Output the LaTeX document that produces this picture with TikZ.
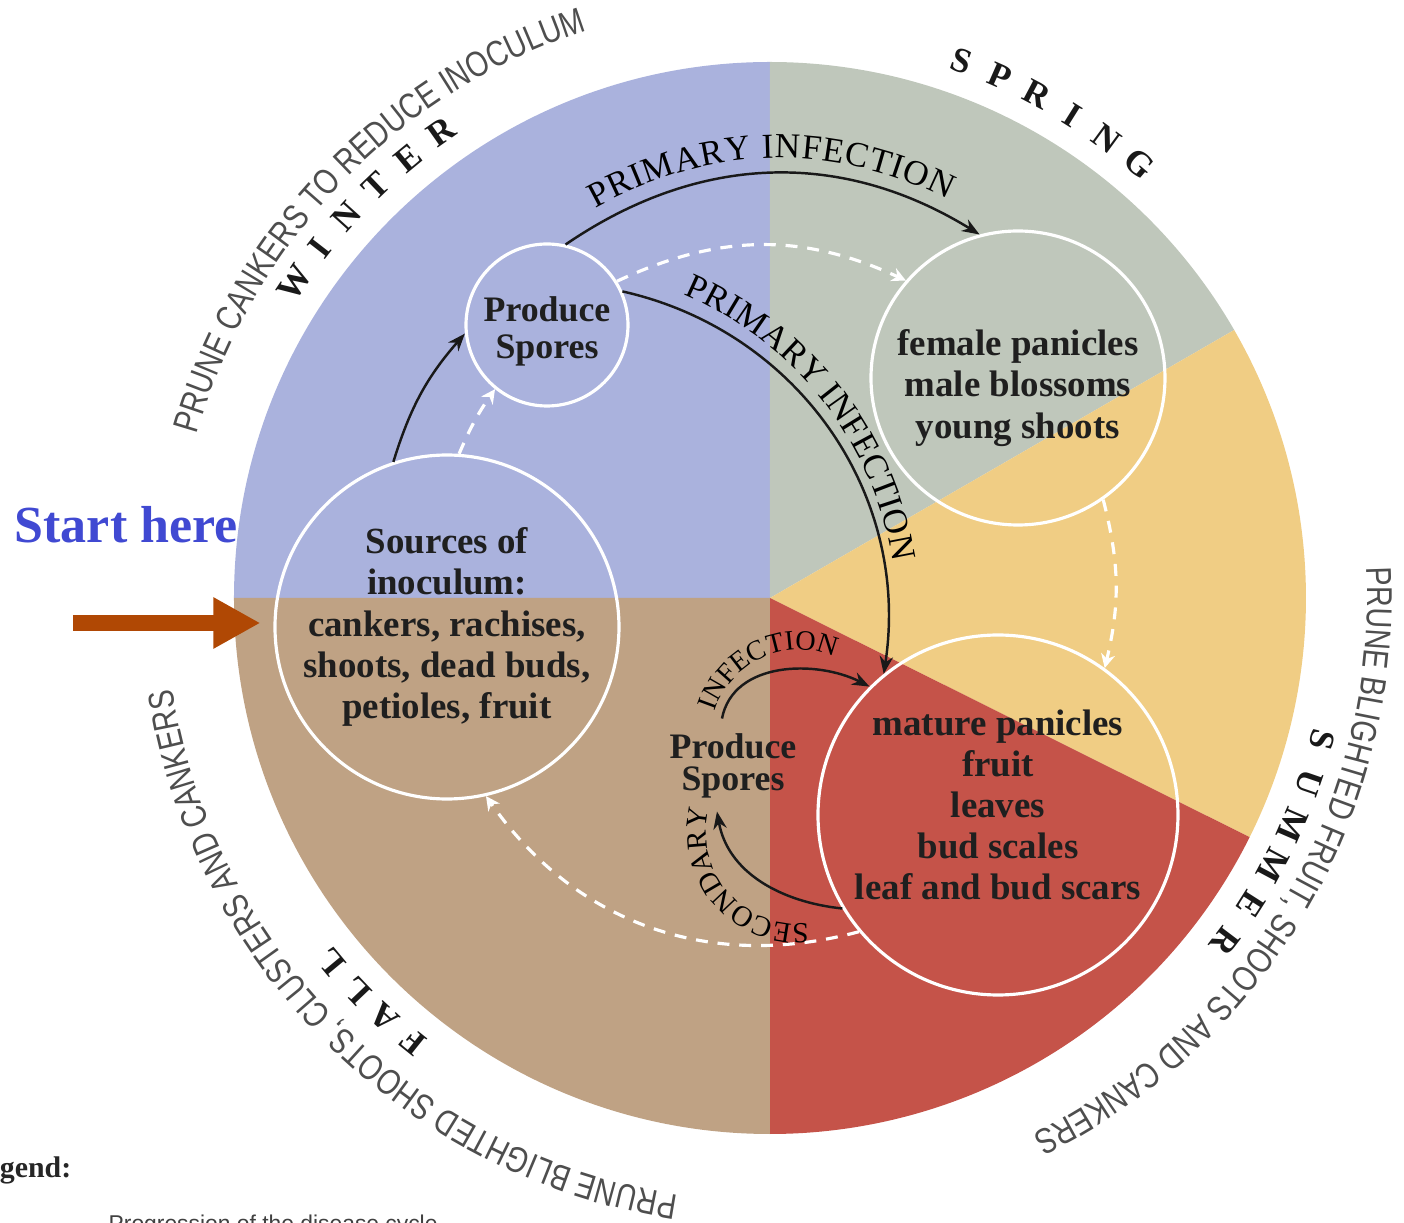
\documentclass[tikz,border=0pt]{standalone}
\usepackage{fontspec}
\setmainfont{Liberation Serif}
\newfontfamily\rimfont[FakeStretch=0.8]{Liberation Sans}
\newfontfamily\legendfont{Liberation Sans}
\usetikzlibrary{arrows.meta, calc, decorations.text}

\definecolor{winterblue}{RGB}{170,178,221}
\definecolor{springgrey}{RGB}{191,199,187}
\definecolor{summeryellow}{RGB}{240,205,132}
\definecolor{summerred}{RGB}{197,83,73}
\definecolor{falltan}{RGB}{191,162,132}
\definecolor{rimgrey}{RGB}{78,78,78}
\definecolor{startblue}{RGB}{64,73,210}
\definecolor{startorange}{RGB}{176,72,4}

\newcommand{\rimstyle}{\rimfont\fontsize{10.2}{12}\selectfont}
\newcommand{\flowstyle}{\fontsize{10}{12}\selectfont}
\newcommand{\smallflowstyle}{\fontsize{8}{10}\selectfont}

\tikzset{
    my-ring/.style={
        circle, draw=white, line width=0.9pt, inner sep=0pt
    },
    my-cycle-text/.style={
        font=\bfseries\fontsize{10.5}{11.7}\selectfont, align=center, text=black!88
    },
    my-flow/.style={
        draw=black!90, line width=0.7pt, -{Stealth[length=5pt, width=3.8pt]}
    },
    my-cycle/.style={
        draw=white, line width=0.9pt, dash pattern=on 3.4pt off 2.8pt,
        -{Stealth[length=4pt, width=4pt]}
    },
    my-season/.style={
        font=\bfseries\fontsize{10}{12}\selectfont, text=black!90, inner sep=0pt
    },
    my-along/.style 2 args={
        postaction={decorate, decoration={text along path, text align=center,
            raise=#1, text={#2}}}
    },
    my-arc-text/.style={
        decorate, decoration={text along path, text align=center, text={#1}}
    },
    my-rim/.style={
        decorate, decoration={text along path, text align=center,
            text color=rimgrey, text={|\rimstyle|#1}}
    },
}

\begin{document}
\begin{tikzpicture}[x=0.1mm, y=0.1mm]

        \clip (-770,-625) rectangle (634,598);

        % SEASON WEDGES
        \foreach \from/\to/\col in {90/180/winterblue, 30/90/springgrey,
                                    -26.5/30/summeryellow, -90/-26.5/summerred,
                                    180/270/falltan}{
            \fill[\col] (0,0) -- (\from:536) arc[start angle=\from, end angle=\to, radius=536] -- cycle;
        }

        % STAGES OF THE CYCLE
        \node[my-ring, minimum size=1.62cm] (SPORES1) at (-223, 273) {};
        \node[my-ring, minimum size=3.44cm] (SOURCES) at (-323, -29) {};
        \node[my-ring, minimum size=2.94cm] (FEMALE)  at (248, 220)  {};
        \node[my-ring, minimum size=3.6cm]  (MATURE)  at (228, -217) {};

        \node[my-cycle-text, font=\bfseries\fontsize{10.2}{10.5}\selectfont] (SPORES1TXT) at ($(SPORES1) + (0,-6)$) {Produce\\Spores};
        \node[my-cycle-text] (SOURCESTXT) at (SOURCES) {Sources of\\inoculum:\\cankers, rachises,\\shoots, dead buds,\\petioles, fruit};
        \node[my-cycle-text] (FEMALETXT)  at ($(FEMALE) + (0,-10)$) {female panicles\\male blossoms\\young shoots};
        \node[my-cycle-text] (MATURETXT)  at ($(MATURE) + (0,10)$) {mature panicles\\fruit\\leaves\\bud scales\\leaf and bud scars};
        \node[my-cycle-text, font=\bfseries\fontsize{10.2}{9}\selectfont] (SPORES2) at (-37, -168) {Produce\\Spores};

        % DISEASE CYCLE (DASHED)
        \draw[my-cycle] (SOURCES.86)  to[bend left=6]  (SPORES1.231);
        \draw[my-cycle] (SPORES1.32)  to[bend left=25] (FEMALE.139);
        \draw[my-cycle] (FEMALE.-55)  to[bend left=14] (MATURE.54);
        \draw[my-cycle] (MATURE.220)  to[bend left=35] (SOURCES.-77);

        % INFECTION PATHS
        \coordinate (SPORES2TOP) at ($(SPORES2.north) + (-11,3)$);
        \coordinate (SPORES2BOT) at ($(SPORES2.south) + (-16,-1)$);
        \draw[my-flow] (SOURCES.108) to[bend left=12] (SPORES1.186);
        \draw[my-flow, my-along={4.3pt}{|\flowstyle|PRIMARY INFECTION}]
            (SPORES1.77) to[bend left=33] (FEMALE.105);
        \draw[my-flow] (SPORES1.24) to[bend left=43] (MATURE.129.5);
        \draw[my-flow] (SPORES2TOP) to[out=79, in=153] (MATURE.135);
        \draw[my-flow] (MATURE.211.8) to[out=174, in=-80] (SPORES2BOT);

        % LABELS ALONG THE INNER ARROWS
        \coordinate (PRIMCTR) at (-222, -18);
        \coordinate (INFCTR)  at (29, -140);
        \coordinate (SECCTR)  at (28, -234);
        \path[my-arc-text={|\flowstyle|PRIMARY INFECTION}]
            ($(PRIMCTR) + (83:349)$) arc[start angle=83, end angle=-7, radius=349];
        \path[my-arc-text={|\smallflowstyle|INFECTION}]
            ($(INFCTR) + (172:88)$) arc[start angle=172, end angle=57, radius=88];
        \path[my-arc-text={|\fontsize{8.3}{10}\selectfont|SECONDARY}]
            ($(SECCTR) + (276:92)$) arc[start angle=276, end angle=166, radius=92];

        % SEASONS
        \foreach \first/\step/\letters [count=\s] in {146.4/4.24/{W,I,N,T,E,R},
                                                     70.4/4.16/{S,P,R,I,N,G},
                                                     -14.4/4.54/{S,U,M,M,E,R},
                                                     231.2/3.83/{F,A,L,L}}{
            \foreach \ch [count=\i from 0] in \letters {
                \pgfmathsetmacro{\ang}{\first - \i*\step}
                \pgfmathsetmacro{\rot}{\ang - 90}
                \node[my-season, rotate=\rot] (SEASON\s-\i) at (\ang:570) {\ch};
            }
        }

        % PRUNING ADVICE ROUND THE RIM
        \path[my-rim={PRUNE CANKERS TO REDUCE INOCULUM}]
            (180:596) arc[start angle=180, end angle=92, radius=596];
        \path[my-rim={PRUNE BLIGHTED FRUIT, SHOOTS AND CANKERS}]
            (30:597) arc[start angle=30, end angle=-91, radius=597];
        \path[my-rim={PRUNE BLIGHTED SHOOTS, CLUSTERS AND CANKERS}]
            (270:604) arc[start angle=270, end angle=180, radius=604];

        % START MARKER
        \node[font=\bfseries\fontsize{14.8}{16}\selectfont, text=startblue,
              anchor=base west, inner sep=0pt] (START) at (-756, 55) {Start here};
        \coordinate (ARROWTAIL) at (-697, -25);
        \draw[draw=startorange, line width=4.3pt, shorten >=1.3mm,
              -{Triangle[length=4.7mm, width=4.8mm]}] (ARROWTAIL) -- (ARROWTAIL -| SOURCES.west);

        % LEGEND
        \node[font=\bfseries\fontsize{8.5}{10}\selectfont, text=black!85,
              anchor=base east, inner sep=0pt] (LEGEND) at (-698, -580) {Legend:};
        \node[font=\legendfont\fontsize{6.5}{8}\selectfont, text=black!75,
              anchor=base west, inner sep=0pt] (CYCLENOTE) at (-662, -633) {Progression of the disease cycle};

    \end{tikzpicture}
\end{document}
